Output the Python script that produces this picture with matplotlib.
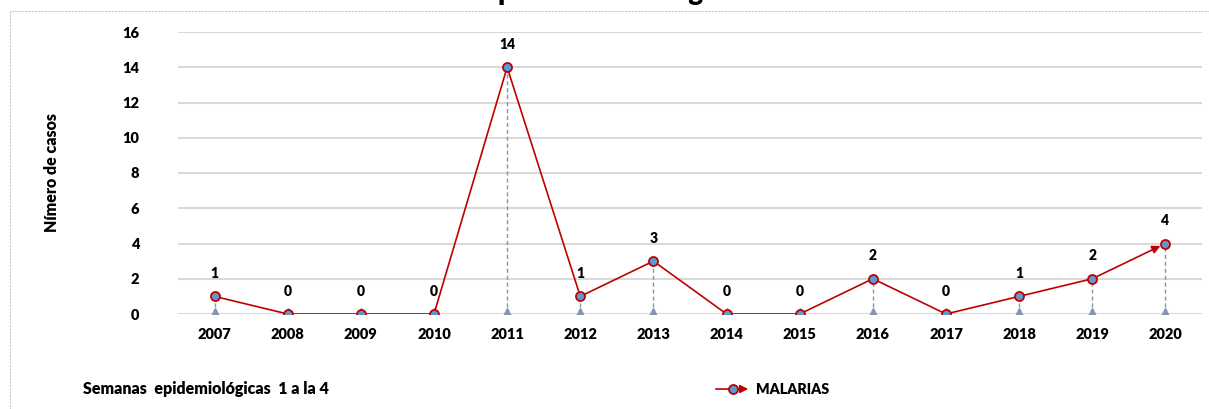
import matplotlib.pyplot as plt
from matplotlib.patches import Rectangle, FancyArrowPatch
from matplotlib.lines import Line2D

plt.rcParams['font.family'] = ['Lato', 'DejaVu Sans']
plt.rcParams['font.weight'] = 'heavy'

# datos
anios = ['2007', '2008', '2009', '2010', '2011', '2012', '2013',
         '2014', '2015', '2016', '2017', '2018', '2019', '2020']
casos = [1, 0, 0, 0, 14, 1, 3, 0, 0, 2, 0, 1, 2, 4]
serie = 'MALARIAS'
titulo = 'Comportamiento según año MALARIA'
etiqueta_y = 'Nímero de casos'
nota = 'Semanas  epidemiológicas  1 a la 4'

rojo = '#c00000'
azul = '#5b9bd5'
gris_azul = '#8497b0'
peso = 'heavy'

fig = plt.figure(figsize=(12.09, 4.09), dpi=100)
ax = fig.add_axes([178/1209, 1 - 314/409, 1024/1209, 282/409])

x = list(range(len(anios)))

# lineas verticales y triangulos
for xi, yi in zip(x, casos):
    ax.plot([xi, xi], [0, yi], color=gris_azul, lw=1.0, ls=(0, (3, 2)), zorder=2)
ax.plot(x, [0]*len(x), ls='none', marker='^', ms=8.5, color=gris_azul, zorder=3)

# linea principal
ax.plot(x[:-1], casos[:-1], color=rojo, lw=1.2, zorder=4)
ax.annotate('', xy=(x[-1], casos[-1]), xytext=(x[-2], casos[-2]),
            arrowprops=dict(arrowstyle='-|>', color=rojo, lw=1.2,
                            mutation_scale=12, shrinkA=0, shrinkB=4),
            zorder=4)
ax.plot(x, casos, ls='none', marker='o', ms=6.5, mfc=azul, mec=rojo, mew=1.3, zorder=5)

for xi, yi in zip(x, casos):
    ax.annotate(str(yi), (xi, yi), xytext=(0, 16.5), textcoords='offset points',
                ha='center', va='center', fontsize=10, fontweight=peso)

ax.set_xlim(-0.5, 13.5)
ax.set_ylim(0, 16)
ax.set_yticks(range(0, 17, 2))
ax.set_xticks(x)
ax.set_xticklabels(anios)
ax.grid(axis='y', color='#d9d9d9', lw=1.5, zorder=0)
ax.set_axisbelow(True)
for s in ax.spines.values():
    s.set_visible(False)
ax.tick_params(length=0, labelsize=10.5, pad=10)
ax.tick_params(axis='y', pad=28)
for lab in ax.get_xticklabels() + ax.get_yticklabels():
    lab.set_fontweight(peso)

fig.text(52/1209, 1 - 173/409, etiqueta_y, rotation=90, ha='center', va='center',
         fontsize=11.5, fontweight=peso)
fig.text(83/1209, 1 - 389/409, nota, ha='left', va='center', fontsize=11.5,
         fontweight=peso)
fig.text(440/1209, 1.0, titulo, ha='left', va='baseline', fontsize=20,
         fontweight=peso)

# leyenda (linea con flecha y marcador)
ly = 1 - 389/409
fig.add_artist(FancyArrowPatch((713/1209, ly), (751/1209, ly), transform=fig.transFigure,
                               arrowstyle='-|>', color=rojo, lw=1.2, mutation_scale=12))
fig.add_artist(Line2D([733/1209], [ly], transform=fig.transFigure, ls='none', marker='o',
                      ms=6.5, mfc=azul, mec=rojo, mew=1.3))
fig.text(756/1209, ly, serie, ha='left', va='center', fontsize=10.3, fontweight=peso)

# borde del area de grafico
fig.patches.append(Rectangle((10/1209, -0.05), 1.1, 1 - 11/409 + 0.05,
                             transform=fig.transFigure, fill=False,
                             ec='#c8c8c8', lw=0.8, ls=(0, (2, 1))))

fig.savefig('out.png', dpi=100)
